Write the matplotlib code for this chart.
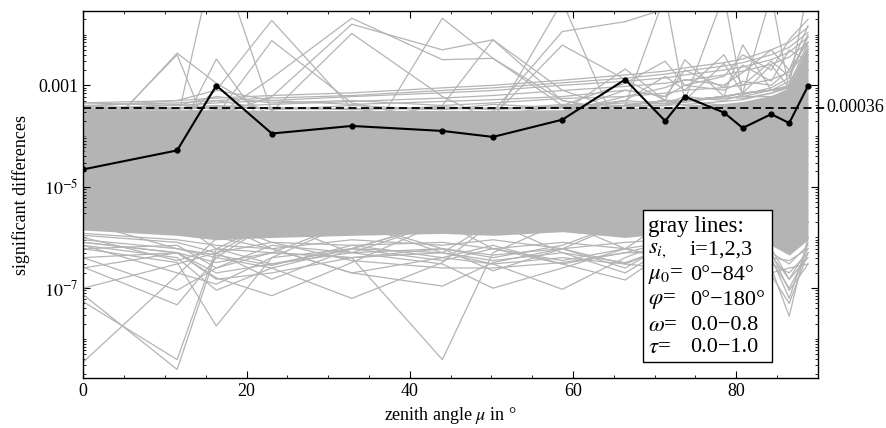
import numpy as np
import matplotlib
matplotlib.use("Agg")
import matplotlib.pyplot as plt
from matplotlib.patches import Rectangle
from matplotlib.ticker import FixedLocator, FixedFormatter, LogLocator, NullFormatter

plt.rcParams['font.family'] = ['Liberation Serif', 'DejaVu Serif']
plt.rcParams['mathtext.fontset'] = 'stix'

# zenith angles (deg) of the quadrature nodes
mu = [0, 11.5, 16.3, 23.1, 32.9, 44.0, 50.2, 58.7, 66.4, 71.3, 73.7, 78.5, 80.8, 84.3, 86.5, 88.8]

# black line (maximum significant difference)
black = [2.2e-5, 5.2e-5, 9.9e-4, 1.12e-4, 1.58e-4, 1.26e-4, 9.6e-5, 2.1e-4,
         1.3e-3, 1.98e-4, 6.0e-4, 2.9e-4, 1.44e-4, 2.7e-4, 1.8e-4, 9.7e-4]

threshold = 3.6e-4

# dense part of the gray bundle (upper / lower edge)
core_top = [3.3e-4, 3.3e-4, 3.3e-4, 3.2e-4, 3.2e-4, 3.2e-4, 3.2e-4, 3.3e-4,
            3.6e-4, 3.7e-4, 3.9e-4, 4.4e-4, 4.8e-4, 6.3e-4, 9e-4, 6.0e-3]
core_bot = [1.4e-6, 1.1e-6, 9e-7, 1.0e-6, 1.1e-6, 1.2e-6, 1.1e-6, 1.3e-6,
            1.0e-6, 1.2e-6, 1.2e-6, 1.1e-6, 1.0e-6, 7e-7, 4.5e-7, 9e-7]

# single gray lines outside the dense part
gray_lines = [
    # upper spikes
    [4.4e-5, 4.3e-3, 1.1e-3, 2.5e-4, 2e-4, 2e-4, 2e-4, 2.5e-4, 3e-4, 3e-4, 3e-4, 3.5e-4, 4e-4, 4.5e-4, 5e-4, 8e-4],
    [5e-5, 4.0e-3, 5e-5, 2e-4, 2e-4, 2e-4, 2e-4, 2e-4, 3e-4, 3e-4, 3e-4, 3e-4, 3.5e-4, 4e-4, 5e-4, 9e-4],
    [1e-4, 1e-4, 3.3e-3, 1e-4, 2e-4, 2e-4, 2e-4, 2e-4, 2.5e-4, 3e-4, 3e-4, 3e-4, 3.5e-4, 4e-4, 5e-4, 1e-3],
    [1.5e-4, 2e-4, 0.5, 3e-4, 2e-4, 2e-4, 2e-4, 2e-4, 2.5e-4, 3e-4, 3e-4, 3e-4, 3.5e-4, 4e-4, 5e-4, 1e-3],
    [1.5e-4, 2e-4, 8e-4, 0.019, 3.5e-4, 2e-4, 2e-4, 2e-4, 2.5e-4, 3e-4, 3e-4, 3e-4, 3.5e-4, 4e-4, 5e-4, 1e-3],
    [1.5e-4, 2e-4, 2.5e-4, 7.6e-3, 4.5e-4, 2e-4, 2e-4, 2e-4, 2.5e-4, 3e-4, 3e-4, 3e-4, 3.5e-4, 4e-4, 5e-4, 1e-3],
    [1.5e-4, 2e-4, 2.5e-4, 1.4e-3, 0.021, 3.2e-3, 3.4e-3, 5e-4, 3e-4, 3e-4, 3e-4, 3e-4, 3.5e-4, 4e-4, 5e-4, 1e-3],
    [1.5e-4, 2e-4, 2.5e-4, 6e-4, 0.016, 5e-3, 7.9e-3, 8e-4, 3e-4, 3e-4, 3e-4, 3e-4, 3.5e-4, 4e-4, 5e-4, 1e-3],
    [1.5e-4, 2e-4, 2.5e-4, 3e-4, 0.0105, 6e-4, 2e-4, 2e-4, 3e-4, 3e-4, 3e-4, 3e-4, 3.5e-4, 4e-4, 5e-4, 1e-3],
    [1.5e-4, 2e-4, 2.5e-4, 2e-4, 2.5e-5, 0.021, 3.4e-3, 4e-4, 3e-4, 3e-4, 3e-4, 3e-4, 3.5e-4, 4e-4, 5e-4, 1e-3],
    [1.5e-4, 2e-4, 2.5e-4, 2e-4, 2e-4, 4e-4, 7.9e-3, 5e-4, 3e-4, 3e-4, 3e-4, 3e-4, 3.5e-4, 4e-4, 5e-4, 1e-3],
    [1.5e-4, 2e-4, 2.5e-4, 2e-4, 2e-4, 2e-4, 2e-4, 0.045, 6e-5, 3e-4, 3e-4, 3e-4, 3.5e-4, 4e-4, 5e-4, 1e-3],
    [1.5e-4, 2e-4, 2.5e-4, 2e-4, 2e-4, 2e-4, 3e-4, 0.0115, 0.018, 0.032, 0.06, 0.1, 0.1, 0.1, 0.1, 0.1],
    [1.5e-4, 2e-4, 2.5e-4, 2e-4, 2e-4, 2e-4, 2.5e-4, 6.2e-3, 1.3e-3, 5e-4, 4e-4, 4e-4, 4e-4, 5e-4, 6e-4, 1e-3],
    [1.5e-4, 2e-4, 2.5e-4, 2e-4, 2e-4, 2e-4, 2.5e-4, 3e-4, 4e-4, 0.06, 5e-4, 4e-4, 4.5e-4, 5e-4, 6e-4, 1e-3],
    [1.5e-4, 2e-4, 2.5e-4, 2e-4, 2e-4, 2e-4, 2.5e-4, 3e-4, 4e-4, 4e-4, 5e-4, 0.06, 6e-4, 6e-4, 7e-4, 1e-3],
    [1.5e-4, 2e-4, 2.5e-4, 2e-4, 2e-4, 2e-4, 2.5e-4, 3e-4, 4e-4, 4e-4, 5e-4, 6e-4, 7e-4, 0.06, 8e-4, 1.2e-3],
    [1.5e-4, 2e-4, 2.5e-4, 2e-4, 2e-4, 2e-4, 2.5e-4, 3e-4, 4e-4, 4e-4, 5e-4, 6e-4, 7e-4, 8e-4, 1e-3, 0.08],
    [1.5e-4, 2e-4, 2.5e-4, 2e-4, 2e-4, 2e-4, 2.5e-4, 3e-4, 2.1e-3, 5e-4, 5e-4, 6e-4, 7e-4, 8e-4, 9e-4, 2e-3],
    [1.5e-4, 2e-4, 2.5e-4, 2e-4, 2e-4, 2e-4, 2.5e-4, 3e-4, 4e-4, 5e-4, 3.2e-3, 6e-4, 7e-4, 8e-4, 9e-4, 2e-3],
    [1.5e-4, 2e-4, 2.5e-4, 2e-4, 2e-4, 2e-4, 2.5e-4, 3e-4, 4e-4, 5e-4, 5e-4, 2.7e-3, 7e-4, 8e-4, 9e-4, 2e-3],
    [1.5e-4, 2e-4, 2.5e-4, 2e-4, 2e-4, 2e-4, 2.5e-4, 3e-4, 4e-4, 5e-4, 5e-4, 6e-4, 6.3e-3, 8e-4, 9e-4, 3e-3],
    [1.5e-4, 2e-4, 2.5e-4, 2e-4, 2e-4, 2e-4, 2.5e-4, 3e-4, 4e-4, 5e-4, 5e-4, 6e-4, 7e-4, 2.5e-3, 9e-4, 4e-3],
    [1.5e-4, 2e-4, 2.5e-4, 2e-4, 2e-4, 2e-4, 2.5e-4, 3e-4, 5e-4, 1.5e-3, 8e-4, 4e-3, 1e-3, 3e-3, 1.5e-3, 0.01],
    [1.5e-4, 2e-4, 2.5e-4, 2e-4, 2e-4, 2e-4, 2.5e-4, 3e-4, 8e-4, 6e-4, 2e-3, 9e-4, 2.5e-3, 1.2e-3, 5e-3, 3e-3],
    [1.5e-4, 2e-4, 2.5e-4, 2e-4, 2e-4, 2e-4, 2.5e-4, 4e-4, 1.1e-3, 3e-3, 1e-3, 1.5e-3, 4e-3, 2e-3, 8e-3, 0.02],
    [1.5e-4, 2e-4, 2.5e-4, 2e-4, 2e-4, 2e-4, 2.5e-4, 3e-4, 6e-4, 9e-4, 1.3e-3, 1e-3, 1.8e-3, 5e-3, 2e-3, 0.015],
    # smooth curves rising to the right
    [4.5e-4, 5e-4, 5.6e-4, 6.3e-4, 7.1e-4, 8.9e-4, 1e-3, 1.26e-3, 1.6e-3, 1.9e-3, 2.2e-3, 2.8e-3, 3.3e-3, 5e-3, 7.1e-3, 0.014],
    [4e-4, 4.5e-4, 5e-4, 5.6e-4, 6.3e-4, 7.9e-4, 8.9e-4, 1.12e-3, 1.38e-3, 1.66e-3, 1.9e-3, 2.4e-3, 2.8e-3, 4e-3, 5.6e-3, 0.011],
    [3.5e-4, 4e-4, 4.5e-4, 5e-4, 6e-4, 7.1e-4, 7.9e-4, 1e-3, 1.2e-3, 1.4e-3, 1.6e-3, 2e-3, 2.3e-3, 3.2e-3, 4.5e-3, 8.9e-3],
    [3.3e-4, 3.5e-4, 3.8e-4, 4.2e-4, 4.8e-4, 5.6e-4, 6.3e-4, 7.9e-4, 9.5e-4, 1.1e-3, 1.25e-3, 1.6e-3, 1.9e-3, 2.6e-3, 3.6e-3, 7e-3],
    # near the upper edge of the bundle
    [3.8e-4, 3.6e-4, 4e-4, 3.4e-4, 3.5e-4, 3.4e-4, 3.6e-4, 3.8e-4, 4.5e-4, 4.3e-4, 5e-4, 5.5e-4, 6e-4, 8e-4, 1.2e-3, 4e-3],
    [3.3e-4, 4.2e-4, 3.3e-4, 3.7e-4, 3.3e-4, 3.8e-4, 3.3e-4, 4.2e-4, 4e-4, 5e-4, 4.6e-4, 6e-4, 5.5e-4, 7e-4, 9e-4, 6e-3],
    [3.2e-4, 3.4e-4, 5e-4, 3.3e-4, 4e-4, 3.3e-4, 4.2e-4, 3.6e-4, 5e-4, 4.4e-4, 6e-4, 5e-4, 6.5e-4, 9e-4, 1.4e-3, 9e-3],
    [4.5e-4, 4e-4, 6e-4, 4.5e-4, 5e-4, 4e-4, 4.5e-4, 5.5e-4, 6e-4, 7e-4, 8e-4, 9e-4, 1e-3, 1.3e-3, 1.8e-3, 5e-3],
    [3.8e-4, 5e-4, 8e-4, 5e-4, 4.2e-4, 4.8e-4, 5.2e-4, 6e-4, 8e-4, 6e-4, 1e-3, 8e-4, 1.2e-3, 1e-3, 2e-3, 7e-3],
    [3.4e-4, 3.4e-4, 3.6e-4, 3.5e-4, 3.4e-4, 3.5e-4, 3.4e-4, 3.5e-4, 3.8e-4, 4e-4, 4.2e-4, 4.8e-4, 5.2e-4, 7e-4, 1e-3, 7e-3],
    # lower dips
    [3.5e-9, 1.8e-7, 9.5e-7, 2e-6, 2e-6, 2e-6, 2e-6, 2e-6, 2e-6, 2e-6, 2e-6, 2e-6, 2e-6, 2e-6, 2e-6, 2e-6],
    [5.4e-8, 3.9e-9, 6e-7, 2e-6, 2e-6, 2e-6, 2e-6, 2e-6, 2e-6, 2e-6, 2e-6, 2e-6, 2e-6, 2e-6, 2e-6, 2e-6],
    [7.4e-8, 2.5e-9, 5e-7, 2e-6, 2e-6, 2e-6, 2e-6, 2e-6, 2e-6, 2e-6, 2e-6, 2e-6, 2e-6, 2e-6, 2e-6, 2e-6],
    [2.6e-7, 4.7e-8, 4e-7, 2e-6, 2e-6, 2e-6, 2e-6, 2e-6, 2e-6, 2e-6, 2e-6, 2e-6, 2e-6, 2e-6, 2e-6, 2e-6],
    [4e-7, 9.1e-8, 2.5e-7, 5e-7, 2e-6, 2e-6, 2e-6, 2e-6, 2e-6, 2e-6, 2e-6, 2e-6, 2e-6, 2e-6, 2e-6, 2e-6],
    [6e-7, 3.2e-7, 1.8e-8, 4e-7, 2e-6, 2e-6, 2e-6, 2e-6, 2e-6, 2e-6, 2e-6, 2e-6, 2e-6, 2e-6, 2e-6, 2e-6],
    [7e-7, 4e-7, 9.1e-8, 2.5e-7, 6e-7, 2e-6, 2e-6, 2e-6, 2e-6, 2e-6, 2e-6, 2e-6, 2e-6, 2e-6, 2e-6, 2e-6],
    [8e-7, 5e-7, 1.6e-7, 7.1e-8, 3.2e-7, 2e-6, 2e-6, 2e-6, 2e-6, 2e-6, 2e-6, 2e-6, 2e-6, 2e-6, 2e-6, 2e-6],
    [2e-6, 6e-7, 4e-7, 2.5e-7, 6.3e-8, 3.2e-7, 2e-6, 2e-6, 2e-6, 2e-6, 2e-6, 2e-6, 2e-6, 2e-6, 2e-6, 2e-6],
    [2e-6, 2e-6, 6e-7, 5e-7, 4e-7, 3.9e-9, 5e-7, 2e-6, 2e-6, 2e-6, 2e-6, 2e-6, 2e-6, 2e-6, 2e-6, 2e-6],
    [2e-6, 2e-6, 2e-6, 6e-7, 2e-7, 1.1e-7, 3.2e-7, 6e-7, 2e-6, 2e-6, 2e-6, 2e-6, 2e-6, 2e-6, 2e-6, 2e-6],
    [2e-6, 2e-6, 2e-6, 2e-6, 5e-7, 3e-7, 1e-7, 2.5e-7, 6e-7, 2e-6, 2e-6, 2e-6, 2e-6, 2e-6, 2e-6, 2e-6],
    [2e-6, 2e-6, 2e-6, 2e-6, 2e-6, 5e-7, 3e-7, 9.5e-8, 4e-7, 8e-7, 2e-6, 2e-6, 2e-6, 2e-6, 2e-6, 2e-6],
    [2e-6, 2e-6, 2e-6, 2e-6, 2e-6, 2e-6, 6e-7, 3e-7, 1.45e-7, 5e-7, 8e-7, 2e-6, 2e-6, 2e-6, 2e-6, 2e-6],
    [2e-6, 2e-6, 2e-6, 2e-6, 2e-6, 2e-6, 2e-6, 2e-6, 6e-7, 4e-7, 5e-7, 6e-7, 5e-7, 2.5e-7, 2.8e-8, 1e-6],
    [2e-6, 2e-6, 2e-6, 2e-6, 2e-6, 2e-6, 2e-6, 2e-6, 2e-6, 6e-7, 7e-7, 5e-7, 6e-7, 4e-7, 6.3e-8, 8e-7],
    [2e-6, 2e-6, 2e-6, 8e-7, 3.5e-7, 2.5e-7, 2.5e-7, 3.2e-7, 5e-7, 8e-7, 2e-6, 2e-6, 2e-6, 2e-6, 2e-6, 2e-6],
    [2e-6, 2e-6, 1e-6, 6e-7, 2e-7, 4e-7, 3e-7, 4e-7, 3e-7, 6e-7, 6e-7, 5e-7, 3e-7, 6e-7, 1.5e-7, 6e-7],
    [2.5e-7, 5e-7, 2e-7, 3e-7, 5e-7, 2e-6, 2e-6, 2e-6, 2e-6, 2e-6, 2e-6, 2e-6, 2e-6, 2e-6, 2e-6, 2e-6],
    [7e-7, 2e-7, 1.2e-7, 4e-7, 6e-7, 2e-6, 2e-6, 2e-6, 2e-6, 2e-6, 2e-6, 2e-6, 2e-6, 2e-6, 2e-6, 2e-6],
    [1e-7, 3e-7, 5e-7, 1.5e-7, 6e-7, 5e-7, 2e-6, 2e-6, 2e-6, 2e-6, 2e-6, 2e-6, 2e-6, 2e-6, 2e-6, 2e-6],
    [4e-7, 5e-7, 1.5e-7, 2e-7, 4e-7, 6e-7, 4e-7, 7e-7, 2e-6, 2e-6, 2e-6, 2e-6, 2e-6, 2e-6, 2e-6, 2e-6],
    [2e-6, 2e-6, 2e-6, 2e-6, 2e-6, 6e-7, 2.2e-7, 6e-7, 3e-7, 2.5e-7, 5e-7, 2.8e-7, 4e-7, 1.8e-7, 5e-8, 5e-7],
    [2e-6, 2e-6, 2e-6, 2e-6, 2e-6, 2e-6, 2e-6, 5e-7, 2e-7, 6e-7, 3.5e-7, 6e-7, 2e-7, 5e-7, 9e-8, 3e-7],
    # near the lower edge of the bundle
    [8e-7, 5e-7, 3.2e-7, 5e-7, 4e-7, 5e-7, 3.5e-7, 5e-7, 3.2e-7, 6e-7, 5e-7, 4e-7, 5e-7, 3e-7, 2e-7, 5e-7],
    [1e-6, 3.5e-7, 6e-7, 3e-7, 6e-7, 3.5e-7, 6e-7, 3.5e-7, 6e-7, 4e-7, 7e-7, 5e-7, 3.5e-7, 4.5e-7, 1.5e-7, 4e-7],
    [6e-7, 7e-7, 2.5e-7, 7e-7, 5e-7, 6e-7, 4.5e-7, 6e-7, 2.5e-7, 7e-7, 6e-7, 7e-7, 4e-7, 2e-7, 2.5e-7, 3e-7],
    [9e-7, 6e-7, 4.5e-7, 2.8e-7, 7e-7, 4e-7, 7e-7, 3e-7, 5e-7, 5e-7, 4e-7, 3.5e-7, 6e-7, 3.5e-7, 1e-7, 5e-7],
    [1.1e-6, 8e-7, 5e-7, 8e-7, 7e-7, 8e-7, 6e-7, 8e-7, 6e-7, 8e-7, 8e-7, 7e-7, 6e-7, 5e-7, 3e-7, 7e-7],
    [1.2e-6, 9e-7, 7e-7, 6e-7, 9e-7, 7e-7, 9e-7, 6e-7, 8e-7, 9e-7, 7e-7, 8e-7, 7e-7, 4e-7, 3.5e-7, 6e-7],
]

legend_names = ["gray lines:", "$s_{i,}$", "$\\mu_0$=", "$\\varphi$=", "$\\omega$=", "$\\tau$="]
legend_values = ["", "i=1,2,3", "0°\u221284°", "0°\u2212180°", "0.0\u22120.8", "0.0\u22121.0"]

gray = '#b4b4b4'

fig = plt.figure(figsize=(8.86, 4.28), dpi=100)
ax = fig.add_axes([0.094, 0.117, 0.829, 0.857])

ax.fill_between(mu, core_bot, core_top, color=gray, lw=0)
for line in gray_lines:
    ax.plot(mu, line, color=gray, lw=0.9)

ax.plot(mu, black, color='black', lw=1.5, marker='o', ms=3.5)

# dashed threshold line, extends a bit past the frame
ax.plot([0, 90.9], [threshold, threshold], color='black', lw=1.3, ls=(0, (4.5, 2.5)), clip_on=False)
ax.text(91.0, threshold, '0.00036', va='center', ha='left', fontsize=13)

ax.set_yscale('log')
ax.set_xlim(0, 90)
ax.set_ylim(1.7e-9, 2.9e-2)

ax.xaxis.set_major_locator(FixedLocator([0, 20, 40, 60, 80]))
ax.xaxis.set_minor_locator(FixedLocator(np.arange(0, 91, 5)))
ax.yaxis.set_major_locator(FixedLocator([1e-7, 1e-5, 1e-3]))
ax.yaxis.set_major_formatter(FixedFormatter(['$10^{-7}$', '$10^{-5}$', '0.001']))
ax.yaxis.set_minor_locator(LogLocator(base=10, subs=np.arange(1, 10), numticks=30))
ax.yaxis.set_minor_formatter(NullFormatter())
ax.tick_params(which='both', direction='in', top=True, right=True, labelsize=13)
ax.tick_params(which='major', length=5, width=0.8)
ax.tick_params(which='minor', length=2.5, width=0.6)

for s in ax.spines.values():
    s.set_linewidth(1.0)

ax.set_xlabel('zenith angle $\\mu$ in °', fontsize=13, labelpad=4)
ax.set_ylabel('significant differences', fontsize=13, labelpad=6)

# legend box
ax.add_patch(Rectangle((0.762, 0.044), 0.176, 0.414, transform=ax.transAxes,
                       facecolor='white', edgecolor='black', lw=1.0, zorder=5))
ys = [0.414, 0.349, 0.278, 0.210, 0.144, 0.082]
for name, val, y in zip(legend_names, legend_values, ys):
    ax.text(0.769, y, name, transform=ax.transAxes, fontsize=16.5, va='center', ha='left', zorder=6)
    if val:
        ax.text(0.826, y, val, transform=ax.transAxes, fontsize=16, va='center', ha='left', zorder=6)

fig.savefig('out.png', dpi=100)
